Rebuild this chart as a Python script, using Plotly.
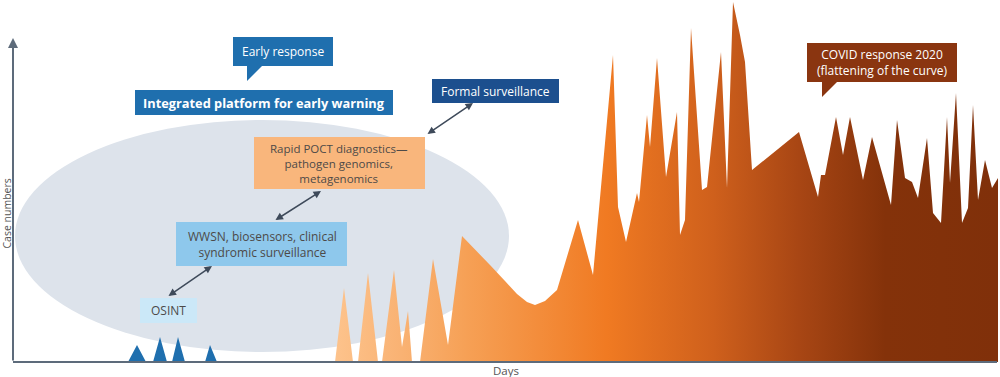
import plotly.graph_objects as go

# ---------------- data (days, case numbers) ----------------
blue_days = [115, 124, 133, 140, 147, 154, 159, 165, 172, 192, 197, 204]
blue_cases = [0, 17, 0, 0, 25, 0, 0, 25, 0, 0, 17, 0]

covid_days = [322, 331, 340, 345, 355, 365, 369, 381, 389, 395, 399, 407, 420, 435,
              449, 462, 477, 492, 504, 514, 522, 532, 544, 565, 580, 600, 605, 613,
              624, 626, 634, 637, 644, 653, 664, 667, 672, 678, 689, 694, 708, 714,
              720, 727, 732, 739, 786, 805, 808, 812, 823, 830, 837, 850, 859, 878,
              884, 892, 899, 905, 914, 920, 928, 934, 937, 943, 949, 955, 960, 965,
              972, 979, 985, 985]
covid_cases = [0, 74, 0, 0, 89, 0, 0, 92, 15, 51, 0, 0, 103, 17,
               126, 113, 97, 81, 68, 60, 57, 61, 72, 142, 87, 307, 155, 120,
               169, 160, 247, 215, 304, 185, 250, 127, 142, 334, 172, 175, 310, 174,
               360, 327, 300, 192, 230, 165, 187, 187, 245, 207, 245, 182, 225, 157,
               242, 184, 180, 164, 224, 149, 139, 245, 179, 269, 139, 154, 257, 162,
               202, 174, 184, 0]

labels = {
    "early": "Early response",
    "platform": "<b>Integrated platform for early warning</b>",
    "formal": "Formal surveillance",
    "poct": "Rapid POCT diagnostics—<br>pathogen genomics,<br>metagenomics",
    "wwsn": "WWSN, biosensors, clinical<br>syndromic surveillance",
    "osint": "OSINT",
    "covid": "COVID response 2020<br>(flattening of the curve)",
    "x": "Days",
    "y": "Case numbers",
}

FONT = "Open Sans"


def X(px):
    return px - 13


def Y(py):
    return 362 - py


fig = go.Figure()

fig.add_trace(go.Scatter(
    x=blue_days, y=blue_cases, mode="lines", fill="toself",
    line=dict(width=0, color="#1f6fae"), fillcolor="#1f6fae",
    hoverinfo="skip", showlegend=False))

fig.add_trace(go.Scatter(
    x=covid_days, y=covid_cases, mode="lines", fill="toself",
    line=dict(width=0, color="#ef7a22"),
    fillgradient=dict(type="horizontal", colorscale=[
        [0, "#fdc38c"], [0.1, "#f9b273"], [0.2, "#f6a055"], [0.41, "#f07a22"],
        [0.57, "#cf601c"], [0.70, "#a84614"], [0.83, "#84320a"], [1, "#80300a"]]),
    hoverinfo="skip", showlegend=False))

shapes = []
# background ellipse
shapes.append(dict(type="circle", xref="x", yref="y", x0=X(15), x1=X(509),
                   y0=Y(352), y1=Y(120), fillcolor="#dde3eb",
                   line=dict(width=0), layer="below"))


def box(x0, y0, x1, y1, color):
    shapes.append(dict(type="rect", xref="x", yref="y", x0=X(x0), x1=X(x1),
                       y0=Y(y1), y1=Y(y0), fillcolor=color,
                       line=dict(width=0), layer="above"))


def tail(pts, color):
    path = "M " + " L ".join(f"{X(a)},{Y(b)}" for a, b in pts) + " Z"
    shapes.append(dict(type="path", xref="x", yref="y", path=path,
                       fillcolor=color, line=dict(width=0), layer="above"))


box(233, 37, 333, 66, "#1f6fae")
tail([(247, 65), (263, 65), (247, 81)], "#1f6fae")
box(135, 90, 393, 115, "#1f6fae")
box(432, 79, 559, 103, "#1c4f8e")
box(254, 137, 425, 189, "#f9b67c")
box(176, 222, 347, 266, "#8ec8ec")
box(140, 298, 197, 323, "#cbe8f8")
box(807, 43, 957, 82, "#8a3510")
tail([(822, 81), (838, 81), (822, 97)], "#8a3510")

# x axis line
shapes.append(dict(type="line", xref="x", yref="y", x0=X(13), x1=X(997),
                   y0=0, y1=0, line=dict(color="#5d6b7b", width=2), layer="above"))

ann = []


def text(px, py, t, color, size, **kw):
    ann.append(dict(x=X(px), y=Y(py), xref="x", yref="y", text=t, showarrow=False,
                    font=dict(family=FONT, size=size, color=color),
                    xanchor="center", yanchor="middle", **kw))


text(283, 51, labels["early"], "white", 12)
text(264, 103, labels["platform"], "white", 12.8)
text(495, 91, labels["formal"], "white", 12)
text(339, 163, labels["poct"], "#4d4a48", 11.5)
text(262, 244, labels["wwsn"], "#4d4a48", 12)
text(168, 310, labels["osint"], "#4d4a48", 12)
text(882, 62, labels["covid"], "white", 12)
text(506, 370, labels["x"], "#555", 11.5)
text(6.5, 214, labels["y"], "#555", 10.5, textangle=-90)


def arrow(x0, y0, x1, y1, both=True):
    ann.append(dict(x=X(x1), y=Y(y1), ax=X(x0), ay=Y(y0), xref="x", yref="y",
                    axref="x", ayref="y", text="", showarrow=True,
                    arrowhead=2, arrowsize=1, arrowwidth=1.5,
                    arrowcolor="#3e4a5a",
                    arrowside="end+start" if both else "end"))


arrow(167, 297, 212, 266)
arrow(274, 221, 321, 191)
arrow(426, 135, 473, 103)
# y axis with arrowhead
ann.append(dict(x=0, y=Y(38), ax=0, ay=0, xref="x", yref="y", axref="x", ayref="y",
                text="", showarrow=True, arrowhead=2, arrowsize=1, arrowwidth=2,
                arrowcolor="#5d6b7b"))

fig.update_layout(
    width=1000, height=377, margin=dict(l=0, r=0, t=0, b=0),
    paper_bgcolor="white", plot_bgcolor="white",
    xaxis=dict(range=[-13, 987], visible=False, fixedrange=True),
    yaxis=dict(range=[-15, 362], visible=False, fixedrange=True),
    shapes=shapes, annotations=ann, showlegend=False,
)

fig.write_html("out.html", config={"displayModeBar": False},
               post_script="document.body.style.margin='0px';")
